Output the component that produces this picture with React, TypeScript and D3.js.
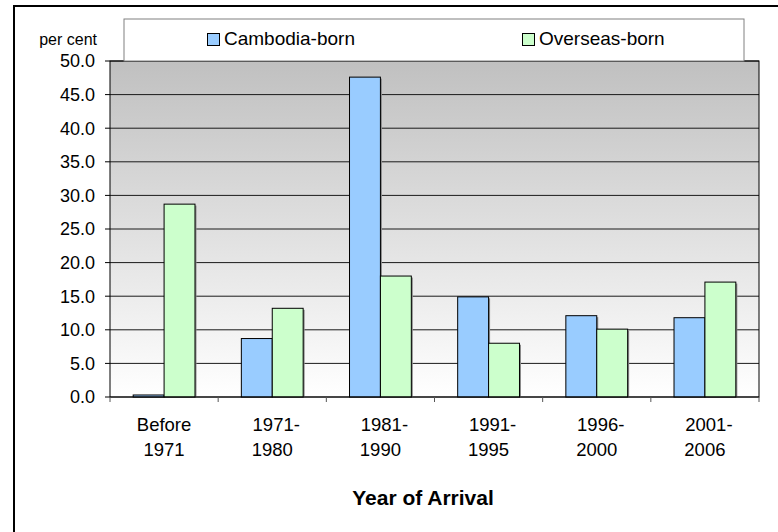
import React from "react";
import * as d3 from "d3";

const categories = ["Before 1971", "1971-1980", "1981-1990", "1991-1995", "1996-2000", "2001-2006"];
const labelLines = [
  ["Before", "1971"],
  ["1971-", "1980"],
  ["1981-", "1990"],
  ["1991-", "1995"],
  ["1996-", "2000"],
  ["2001-", "2006"],
];
const seriesNames = ["Cambodia-born", "Overseas-born"];
const cambodiaBorn = [0.3, 8.7, 47.6, 14.9, 12.1, 11.8];
const overseasBorn = [28.7, 13.2, 18.0, 8.0, 10.1, 17.1];
const yTicks = [0, 5, 10, 15, 20, 25, 30, 35, 40, 45, 50];
const colors = ["#99CCFF", "#CCFFCC"];

const W = 778;
const H = 532;
const plot = { left: 110, right: 759, top: 61, bottom: 397 };
const FONT = "'Liberation Sans', Arial, sans-serif";

export default function App() {
  const y = d3.scaleLinear().domain([0, 50]).range([plot.bottom, plot.top]);
  const x0 = d3.scaleBand<string>().domain(categories).range([plot.left, plot.right]).padding(0);
  const bw = x0.bandwidth();
  const barW = bw / (2 + 1.5);
  const x1 = d3
    .scaleBand<string>()
    .domain(seriesNames)
    .range([(bw - 2 * barW) / 2, (bw + 2 * barW) / 2])
    .padding(0);
  const series = [cambodiaBorn, overseasBorn];

  return (
    <svg
      width={W}
      height={H}
      style={{ position: "absolute", left: 0, top: 0, background: "#fff" }}
      fontFamily={FONT}
    >
      <defs>
        <linearGradient id="bg" x1="0" y1="0" x2="0" y2="1">
          <stop offset="0%" stopColor="#c0c0c0" />
          <stop offset="100%" stopColor="#ffffff" />
        </linearGradient>
      </defs>
      <rect x={0} y={0} width={W} height={H} fill="#fff" />
      {/* outer frame */}
      <rect x={14} y={6} width={900} height={700} fill="none" stroke="#000" strokeWidth={2} />

      {/* plot background */}
      <rect
        x={plot.left}
        y={plot.top}
        width={plot.right - plot.left}
        height={plot.bottom - plot.top}
        fill="url(#bg)"
      />
      {/* gridlines */}
      {yTicks.map((t) => (
        <line key={"g" + t} x1={plot.left} x2={plot.right} y1={y(t)} y2={y(t)} stroke="#1a1a1a" strokeWidth={1} />
      ))}

      {/* bars */}
      {categories.map((c, i) =>
        seriesNames.map((s, j) => {
          const v = series[j][i];
          const bx = (x0(c) as number) + (x1(s) as number);
          const by = y(v);
          const bh = y(0) - y(v);
          return (
            <g key={c + s}>
              <rect x={bx + 1.5} y={by + 1.5} width={barW} height={Math.max(0, bh - 1.5)} fill="#8a8a8a" />
              <rect x={bx} y={by} width={barW} height={bh} fill={colors[j]} stroke="#000" strokeWidth={1} />
            </g>
          );
        })
      )}

      {/* plot border */}
      <rect
        x={plot.left}
        y={plot.top}
        width={plot.right - plot.left}
        height={plot.bottom - plot.top}
        fill="none"
        stroke="#000"
        strokeWidth={1}
      />

      {/* y ticks */}
      {yTicks.map((t) => (
        <g key={"yt" + t}>
          <line x1={plot.left - 5} x2={plot.left} y1={y(t)} y2={y(t)} stroke="#000" />
          <text x={95} y={y(t)} dy="0.36em" textAnchor="end" fontSize={18} fill="#000">
            {t.toFixed(1)}
          </text>
        </g>
      ))}
      <text x={97} y={45} textAnchor="end" fontSize={16} fill="#000">
        per cent
      </text>

      {/* x ticks */}
      {[...categories.map((c) => x0(c) as number), plot.right].map((xv, i) => (
        <line key={"xt" + i} x1={xv} x2={xv} y1={plot.bottom} y2={plot.bottom + 5} stroke="#555" />
      ))}
      {categories.map((c, i) => {
        const cx = (x0(c) as number) + bw / 2;
        const [l1, l2] = labelLines[i];
        const shift = l1.endsWith("-") ? 4 : 0;
        return (
          <g key={"xl" + c}>
            <text x={cx + shift} y={431} textAnchor="middle" fontSize={18.5} fill="#000">
              {l1}
            </text>
            <text x={cx} y={456} textAnchor="middle" fontSize={18.5} fill="#000">
              {l2}
            </text>
          </g>
        );
      })}

      <text x={423} y={505} textAnchor="middle" fontSize={21} fontWeight="bold" fill="#000">
        Year of Arrival
      </text>

      {/* legend */}
      <rect x={124} y={19} width={620} height={42} fill="#fff" stroke="#808080" strokeWidth={1} />
      {seriesNames.map((s, j) => {
        const lx = j === 0 ? 207 : 522;
        return (
          <g key={"lg" + s}>
            <rect x={lx + 0.5} y={33.5} width={12} height={12} fill={colors[j]} stroke="#000" strokeWidth={1} />
            <text x={lx + 17} y={45} fontSize={19} fill="#000">
              {s}
            </text>
          </g>
        );
      })}
    </svg>
  );
}
